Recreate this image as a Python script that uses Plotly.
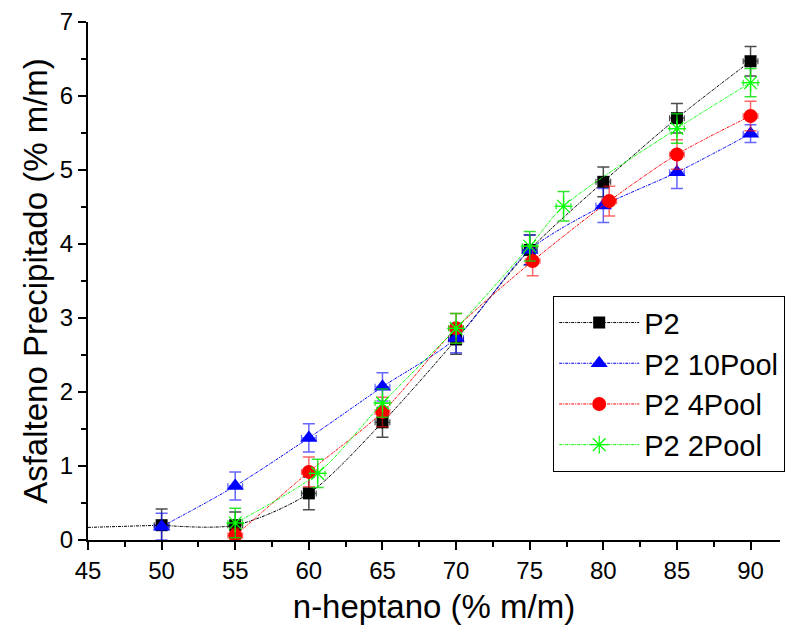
import plotly.graph_objects as go

# ---------------- data ----------------
p2_x = [50, 55, 60, 65, 70, 75, 80, 85, 90]
p2_y = [0.20, 0.20, 0.63, 1.59, 2.71, 3.92, 4.84, 5.70, 6.47]
p2_err = [0.22, 0.18, 0.22, 0.2, 0.2, 0.2, 0.2, 0.2, 0.2]
p2_lead_x = [45, 50]
p2_lead_y = [0.17, 0.20]

p10_x = [50, 55, 60, 65, 70, 75, 80, 85, 90]
p10_y = [0.18, 0.73, 1.38, 2.07, 2.73, 3.92, 4.52, 4.97, 5.49]
p10_err = [0.18, 0.19, 0.19, 0.19, 0.2, 0.2, 0.23, 0.22, 0.12]

p4_x = [55, 60, 65, 70, 75.2, 80.4, 85, 90]
p4_y = [0.06, 0.92, 1.73, 2.86, 3.77, 4.58, 5.21, 5.73]
p4_err = [0.1, 0.2, 0.2, 0.2, 0.2, 0.2, 0.2, 0.2]

p2p_x = [55, 60.6, 65, 70, 75, 77.3, 85, 90]
p2p_y = [0.23, 0.90, 1.85, 2.86, 3.97, 4.51, 5.56, 6.18]
p2p_err = [0.2, 0.19, 0.19, 0.2, 0.2, 0.2, 0.2, 0.19]

x_err = 0.5

font_family = "Arial, Liberation Sans, sans-serif"
dash = "3px,1px,1px,1px"

fig = go.Figure()

# leading segment of the P2 curve (no marker)
fig.add_trace(go.Scatter(
    x=p2_lead_x, y=p2_lead_y, mode="lines", showlegend=False,
    line=dict(color="black", width=1, dash=dash), hoverinfo="skip"))

series = [
    ("P2", p2_x, p2_y, p2_err, "black", "rgba(0,0,0,0.7)", "square", 12, None),
    ("P2 10Pool", p10_x, p10_y, p10_err, "#0000FF", "rgba(0,0,255,0.6)", "triangle-up", 15, None),
    ("P2 4Pool", p4_x, p4_y, p4_err, "#FF0000", "rgba(255,0,0,0.6)", "circle", 14, None),
    ("P2 2Pool", p2p_x, p2p_y, p2p_err, "#00FF00", "rgba(0,220,0,0.8)", "asterisk-open", 15, 1.2),
]

for name, xs, ys, errs, col, ecol, sym, size, lw in series:
    marker = dict(symbol=sym, size=size, color=col)
    if lw is not None:
        marker["line"] = dict(color=col, width=lw)
    else:
        marker["line"] = dict(width=0)
    fig.add_trace(go.Scatter(
        x=xs, y=ys, name=name, mode="lines+markers",
        line=dict(color=col, width=1, dash=dash, shape="spline", smoothing=0.8),
        marker=marker,
        error_y=dict(type="data", array=errs, visible=True, color=ecol,
                     thickness=1.5, width=6),
        error_x=dict(type="constant", value=x_err, visible=True, color=ecol,
                     thickness=1.2, width=3),
    ))

fig.update_layout(
    width=792, height=633,
    margin=dict(l=88, r=12, t=22, b=93, autoexpand=False),
    paper_bgcolor="white", plot_bgcolor="white",
    font=dict(family=font_family, color="black"),
    legend=dict(
        xref="container", yref="container",
        x=553 / 792, y=1 - 296 / 633, xanchor="left", yanchor="top",
        font=dict(size=29, family=font_family, color="black"),
        bordercolor="black", borderwidth=1.2, bgcolor="white",
        itemwidth=80, tracegroupgap=0,
    ),
    showlegend=True,
)

fig.update_xaxes(
    range=[45, 92], tick0=45, dtick=5, automargin=False,
    showgrid=False, zeroline=False,
    showline=True, linecolor="black", linewidth=2,
    ticks="outside", ticklen=8, tickwidth=1.5, tickcolor="black",
    minor=dict(ticks="outside", ticklen=5, tickwidth=1.5, tickcolor="black", dtick=2.5, tick0=45),
    tickfont=dict(size=24, family=font_family),
    title=dict(text="n-heptano (% m/m)", font=dict(size=33, family=font_family), standoff=12),
)
fig.update_yaxes(
    range=[0, 7], tick0=0, dtick=1, automargin=False,
    showgrid=False, zeroline=False,
    showline=True, linecolor="black", linewidth=2,
    ticks="outside", ticklen=8, tickwidth=1.5, tickcolor="black",
    minor=dict(ticks="outside", ticklen=5, tickwidth=1.5, tickcolor="black", dtick=0.5, tick0=0),
    tickfont=dict(size=24, family=font_family),
    title=dict(text="Asfalteno Precipitado (% m/m)", font=dict(size=33, family=font_family), standoff=2),
)

fig.write_html("out.html")
